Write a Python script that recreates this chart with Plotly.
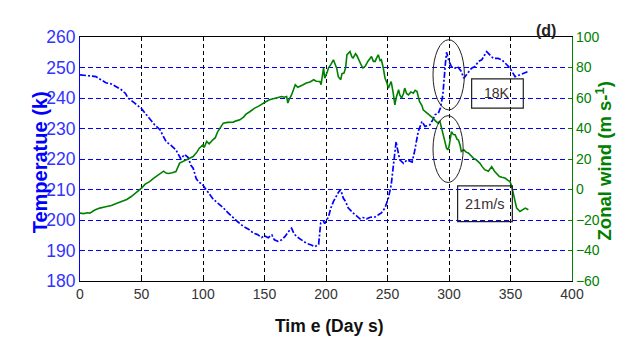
import plotly.graph_objects as go

# ---------------- data ----------------
temp_days = [0, 5, 10, 13, 17, 21, 25.5, 30, 33.6, 37, 39, 44, 50, 54, 58, 60.7, 65, 68, 70, 74, 78,
             82, 85, 88, 90, 92, 94.5, 97, 99, 101.6, 105, 108, 112, 116.5, 120, 124.6, 128, 132.8,
             137, 141, 144, 147.7, 150, 153, 156, 158, 161, 164, 166.7, 170.7, 172, 174, 176, 180,
             184, 188, 191, 194, 195.7, 198, 199, 202, 204, 206, 208.7, 210, 212, 214, 216, 218,
             222, 225, 227.6, 230, 233, 236, 240, 243, 245, 248, 250.7, 253, 255, 256, 257, 258,
             260, 263, 266, 270, 272, 275, 278, 280.5, 284.5, 287, 288.6, 291.3, 293, 295, 296,
             297, 298, 299, 300, 302, 305, 307, 310, 312, 313, 315.7, 318.4, 321, 324, 326.6, 329,
             330.6, 333, 336, 340, 343, 347, 349.6, 353.7, 357.7, 361.8, 364.5]
temp_vals = [247.6, 247.4, 247.2, 247.0, 246.0, 245.0, 244.6, 243.5, 242.7, 241.5, 240.0, 238.5,
             236.5, 234.5, 232.5, 231.2, 229.6, 227.5, 225.7, 224.5, 223.0, 220.0, 221.5, 220.5,
             218.0, 217.0, 213.5, 212.3, 212.0, 210.5, 208.5, 207.0, 205.5, 204.0, 202.5, 200.6,
             199.5, 197.9, 197.0, 195.7, 195.3, 194.3, 194.8, 194.2, 195.1, 193.5, 193.0, 193.5,
             194.6, 196.8, 197.3, 195.5, 194.6, 193.5, 192.4, 191.8, 191.3, 192.0, 199.0, 199.5,
             198.8, 201.0, 204.0, 206.0, 208.2, 209.0, 210.0, 207.2, 206.0, 204.0, 202.3, 201.2,
             200.4, 200.8, 200.4, 200.9, 201.0, 201.8, 202.3, 204.0, 207.2, 211.5, 219.0, 224.0,
             225.7, 223.5, 219.7, 218.6, 219.7, 219.0, 222.5, 229.0, 232.3, 230.7, 231.2, 233.0,
             234.5, 235.0, 236.7, 241.0, 247.6, 251.0, 255.0, 253.5, 252.0, 250.3, 249.8, 250.3,
             248.7, 246.5, 247.0, 248.2, 249.8, 250.3, 252.0, 252.5, 254.0, 255.2, 254.2, 253.0,
             253.0, 252.5, 250.9, 249.8, 247.0, 247.6, 248.2, 248.7]

wind_days = [0, 3, 6, 8, 12, 16, 20, 25.5, 30, 33.6, 38, 41.7, 46, 50, 53, 56.6, 60, 63, 66, 68, 70,
             72, 75, 78, 81, 84, 86.4, 89, 92, 95, 97, 100, 101, 103, 105, 108, 110, 112, 114, 116.5,
             120, 124.6, 127, 130, 133, 135, 138, 142, 145, 149, 151, 154, 157, 161, 164, 166, 168,
             169, 170, 172, 174, 175, 177, 179, 181, 184, 187, 190, 192, 195, 196, 198, 199, 201,
             202, 204, 206, 207.5, 208.7, 210, 212, 213, 214.6, 216, 217, 219.5, 221, 222, 224, 225,
             227.6, 229, 230, 232, 234, 235.5, 237, 238.5, 240, 241, 242.5, 244, 245, 246.5, 248,
             249.5, 250.7, 252, 253, 254.5, 256, 257, 259, 260, 261.5, 263, 264, 265.5, 267, 269,
             271, 272.5, 274, 276, 278, 279, 281, 283, 285, 287, 289, 291, 292.5, 294, 295, 296,
             298, 299, 300, 301, 302, 303.5, 305, 306.5, 307.7, 309, 310, 312, 314, 315.7, 318,
             319.8, 322, 325, 327, 329, 332, 334.7, 337, 339, 341, 343, 345.5, 348, 349.6, 351, 352,
             353, 354, 355, 357.7, 360, 362, 364.5]
wind_vals = [-15.5, -15.8, -15.3, -15.5, -13.5, -12.2, -11.5, -10.5, -9.0, -7.9, -6.5, -4.6, -2.0,
             0.9, 3.5, 5.2, 7.5, 9.2, 10.5, 12.0, 10.8, 10.5, 11.0, 11.8, 17.3, 18.5, 19.5, 20.0,
             21.6, 24.5, 27.1, 29.3, 27.5, 31.5, 30.0, 32.6, 34.0, 38.0, 40.5, 43.5, 44.0, 44.2,
             45.0, 45.7, 47.5, 49.4, 51.0, 53.4, 54.5, 56.7, 57.5, 58.8, 59.5, 60.3, 61.0, 60.5,
             61.0, 56.7, 59.0, 62.0, 66.0, 68.7, 67.0, 67.5, 68.5, 69.8, 70.5, 72.0, 71.0, 70.8,
             68.7, 79.6, 73.0, 77.0, 79.6, 82.0, 85.0, 82.0, 79.6, 74.0, 72.0, 76.0, 76.3, 80.0,
             88.3, 90.5, 87.0, 86.2, 89.0, 88.0, 82.9, 81.0, 79.6, 81.0, 84.0, 86.0, 87.2, 84.0,
             84.0, 86.0, 88.3, 84.5, 85.0, 80.0, 73.0, 70.0, 66.5, 69.0, 70.8, 64.0, 55.5, 60.0,
             65.4, 62.0, 60.0, 63.0, 66.5, 63.0, 62.0, 64.0, 63.2, 65.0, 64.3, 57.7, 55.0, 52.3,
             51.0, 50.0, 48.5, 46.8, 45.0, 43.5, 45.0, 40.0, 38.0, 33.0, 27.1, 26.0, 28.0, 33.0,
             38.0, 36.0, 35.9, 33.0, 32.5, 29.0, 25.0, 26.0, 24.5, 24.0, 22.0, 20.6, 19.5, 17.3,
             15.0, 13.0, 12.0, 15.0, 12.0, 10.0, 8.5, 8.0, 7.5, 6.0, 5.2, 2.0, -1.3, -5.0, -9.0,
             -12.2, -14.4, -13.5, -12.2, -13.3]

temp_ticks = [180, 190, 200, 210, 220, 230, 240, 250, 260]
wind_ticks = [-60, -40, -20, 0, 20, 40, 60, 80, 100]
day_ticks = [0, 50, 100, 150, 200, 250, 300, 350, 400]

label_temp = "18K"
label_wind = "21m/s"
panel_label = "(d)"

FONT = "Liberation Sans, Arial, sans-serif"
BLUE = "#0000ff"
GREEN = "#008000"

fig = go.Figure()
fig.add_trace(go.Scatter(x=temp_days, y=temp_vals, mode="lines", yaxis="y",
                         line=dict(color=BLUE, width=1.7, dash="6px,2px,2px,2px"),
                         showlegend=False, hoverinfo="skip"))
fig.add_trace(go.Scatter(x=wind_days, y=wind_vals, mode="lines", yaxis="y2",
                         line=dict(color=GREEN, width=1.6),
                         showlegend=False, hoverinfo="skip"))

# ellipses and boxes (in data coordinates)
fig.add_shape(type="circle", xref="x", yref="y", x0=287, x1=312.5, y0=236.1, y1=259.1,
              line=dict(color="#222222", width=1))
fig.add_shape(type="circle", xref="x", yref="y", x0=287, x1=311.5, y0=212.3, y1=234.2,
              line=dict(color="#222222", width=1))
fig.add_shape(type="rect", xref="x", yref="y", x0=318.4, x1=360.4, y0=236.7, y1=246.3,
              line=dict(color="#222222", width=1.2))
fig.add_shape(type="rect", xref="x", yref="y", x0=307, x1=351.5, y0=199.5, y1=211.2,
              line=dict(color="#222222", width=1.2))
fig.add_annotation(x=(318.4 + 360.4) / 2, y=241.5, xref="x", yref="y", text=label_temp,
                   showarrow=False, font=dict(family=FONT, size=14, color="#3a2f2f"))
fig.add_annotation(x=(307 + 351.5) / 2, y=205.4, xref="x", yref="y", text=label_wind,
                   showarrow=False, font=dict(family=FONT, size=14.5, color="#3a2f2f"))

# titles
fig.add_annotation(x=0.9715, y=1.07, xref="paper", yref="paper", text="<b>" + panel_label + "</b>",
                   showarrow=False, font=dict(family=FONT, size=16, color="#222222"))
fig.add_annotation(x=-0.106, y=0.486, xref="paper", yref="paper", text="<b>Temperatue (k)</b>",
                   textangle=-90, showarrow=False, font=dict(family=FONT, size=20, color=BLUE))
fig.add_annotation(x=1.0935, y=0.49, xref="paper", yref="paper",
                   text="<b>Zonal wind (m s-<sup>1</sup>)</b>",
                   textangle=-90, showarrow=False, font=dict(family=FONT, size=18.5, color=GREEN))
fig.add_annotation(x=0.508, y=-0.234, xref="paper", yref="paper", text="<b>Tim e (Day s)</b>",
                   showarrow=False, font=dict(family=FONT, size=17.5, color="#111111"))

fig.update_layout(
    width=628, height=354,
    margin=dict(l=80, r=56, t=37, b=73),
    paper_bgcolor="white", plot_bgcolor="white",
    xaxis=dict(range=[0, 400], tickvals=day_ticks, showgrid=True, gridcolor="#000000",
               griddash="4px,3px", gridwidth=1, zeroline=False, showline=True,
               linecolor="#000000", linewidth=1, mirror=True, ticks="inside", ticklen=4,
               tickcolor="#000000", tickfont=dict(family=FONT, size=14, color="#333333")),
    yaxis=dict(range=[180, 260], tickvals=temp_ticks, showgrid=True, gridcolor=BLUE,
               griddash="5px,3px", gridwidth=1, zeroline=False, showline=True,
               linecolor=BLUE, linewidth=1.2, ticks="inside", ticklen=4, tickcolor=BLUE,
               tickfont=dict(family=FONT, size=17.5, color="#3333ff")),
    yaxis2=dict(range=[-60, 100], tickvals=wind_ticks, overlaying="y", side="right",
                showgrid=False, zeroline=False, showline=True, linecolor=GREEN, linewidth=1.2,
                ticks="inside", ticklen=4, tickcolor=GREEN,
                tickfont=dict(family=FONT, size=14, color=GREEN)),
    showlegend=False,
)

fig.write_html("out.html")
